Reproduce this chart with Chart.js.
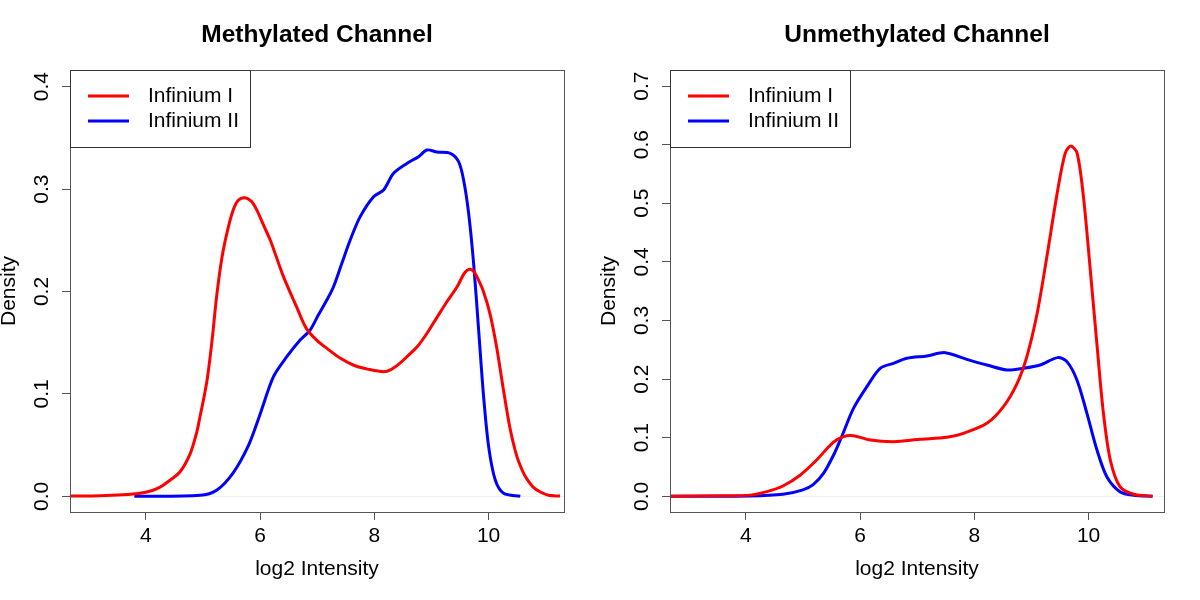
<!DOCTYPE html>
<html>
<head>
<meta charset="utf-8">
<script src="https://cdn.jsdelivr.net/npm/chart.js@4.4.1/dist/chart.umd.min.js"></script>
<style>
  html, body { margin: 0; padding: 0; background: #fff; }
  #wrap { display: flex; width: 1200px; height: 600px; }
  canvas { display: block; }
</style>
</head>
<body>
<div id="wrap">
  <canvas id="meth" width="600" height="600"></canvas>
  <canvas id="unmeth" width="600" height="600"></canvas>
</div>
<script>
// tick labels
const xTicks = [4, 6, 8, 10];
const methYTicks = [0.0, 0.1, 0.2, 0.3, 0.4];
const unmethYTicks = [0.0, 0.1, 0.2, 0.3, 0.4, 0.5, 0.6, 0.7];

const seriesNames = ['Infinium I', 'Infinium II'];
const seriesColors = ['#ff0000', '#0000ff'];

// Methylated channel, Infinium I
const methIx = [2.69, 3.2, 3.6, 3.9, 4.1, 4.25, 4.37, 4.60, 4.78, 4.89, 4.95, 5.02, 5.08, 5.16, 5.24, 5.33, 5.42, 5.52, 5.62, 5.74,
  5.85, 5.94, 6.06, 6.18, 6.41, 6.64, 6.81, 7.0, 7.17, 7.40, 7.64, 7.90, 8.16, 8.30, 8.45, 8.57, 8.75, 8.92, 9.10, 9.27,
  9.45, 9.56, 9.62, 9.68, 9.74, 9.80, 9.91, 10.03, 10.14, 10.26, 10.37, 10.49, 10.60, 10.67, 10.78, 10.90, 11.05, 11.25];
const methIy = [0.0003, 0.0006, 0.0015, 0.003, 0.0055, 0.009, 0.0135, 0.024, 0.042, 0.062, 0.078, 0.097, 0.116, 0.152, 0.195, 0.232, 0.257, 0.278, 0.289, 0.2916,
  0.288, 0.280, 0.265, 0.250, 0.2145, 0.185, 0.164, 0.152, 0.1445, 0.135, 0.128, 0.124, 0.1217, 0.124, 0.130, 0.1363, 0.146, 0.159, 0.175, 0.190,
  0.2047, 0.2165, 0.2205, 0.2217, 0.2195, 0.214, 0.200, 0.177, 0.146, 0.104, 0.068, 0.040, 0.024, 0.017, 0.009, 0.0045, 0.001, 0.0003];

// Methylated channel, Infinium II
const methIIx = [3.80, 4.95, 5.24, 5.53, 5.80, 6.0, 6.235, 6.469, 6.702, 6.877, 7.02, 7.169, 7.286, 7.432, 7.578, 7.753, 7.987, 8.162, 8.337, 8.570,
  8.775, 8.921, 9.096, 9.329, 9.475, 9.563, 9.651, 9.738, 9.826, 9.913, 10.001, 10.117, 10.263, 10.555];
const methIIy = [0.0, 0.001, 0.006, 0.023, 0.050, 0.080, 0.1168, 0.1364, 0.1526, 0.1624, 0.177, 0.1917, 0.2047, 0.2275, 0.2503, 0.2731, 0.2926, 0.2991, 0.3154, 0.3251,
  0.3317, 0.3382, 0.3362, 0.3349, 0.3268, 0.3089, 0.2763, 0.2275, 0.1624, 0.0973, 0.0485, 0.0159, 0.0029, 0.0];

// Unmethylated channel, Infinium I
const unmethIx = [2.69, 3.55, 4.075, 4.37, 4.65, 4.95, 5.24, 5.53, 5.71, 5.88, 6.18, 6.59, 7.05, 7.52, 7.81, 8.22, 8.51, 8.75, 8.92, 9.10,
  9.27, 9.45, 9.59, 9.69, 9.80, 9.91, 10.03, 10.15, 10.26, 10.38, 10.55, 10.79, 11.12];
const unmethIy = [0.0, 0.001, 0.002, 0.008, 0.0176, 0.036, 0.062, 0.092, 0.1018, 0.1035, 0.0961, 0.0932, 0.0972, 0.1006, 0.1075, 0.1245, 0.153, 0.1928, 0.2383, 0.3122,
  0.4089, 0.5169, 0.5852, 0.5977, 0.5852, 0.5113, 0.3861, 0.2553, 0.1416, 0.062, 0.0164, 0.0034, 0.0];

// Unmethylated channel, Infinium II
const unmethIIx = [2.69, 4.075, 4.65, 5.0, 5.18, 5.36, 5.535, 5.68, 5.885, 6.119, 6.352, 6.586, 6.819, 7.169, 7.490, 7.870, 8.220, 8.570, 8.862, 9.154,
  9.458, 9.621, 9.796, 9.971, 10.147, 10.322, 10.555, 10.789, 11.12];
const unmethIIy = [0.0, 0.0005, 0.0034, 0.011, 0.020, 0.039, 0.070, 0.102, 0.150, 0.187, 0.2184, 0.2269, 0.2354, 0.2394, 0.2451, 0.2337, 0.2240, 0.2155, 0.2184, 0.2240,
  0.2366, 0.2298, 0.1985, 0.1416, 0.0790, 0.0330, 0.0074, 0.0017, 0.0];

const FONT = '"Liberation Sans", Arial, Helvetica, sans-serif';
Chart.defaults.font.family = FONT;
Chart.defaults.color = '#000';

function toPoints(xs, ys) {
  return xs.map((x, i) => ({x: x, y: ys[i]}));
}

// R base graphics look: zero line, box, title, y labels along the axis, legend
const rBasePlot = {
  id: 'rBasePlot',
  beforeDatasetsDraw(chart) {
    const {ctx, chartArea: a, scales: {y}} = chart;
    const py = Math.round(y.getPixelForValue(0)) + 0.5;
    ctx.save();
    ctx.strokeStyle = '#eeeeee';
    ctx.lineWidth = 1;
    ctx.beginPath();
    ctx.moveTo(a.left, py);
    ctx.lineTo(a.right, py);
    ctx.stroke();
    ctx.restore();
  },
  afterDraw(chart, args, opts) {
    const {ctx, chartArea: a, scales: {y}} = chart;
    ctx.save();
    ctx.strokeStyle = '#555';
    ctx.lineWidth = 1;
    ctx.strokeRect(a.left + 0.5, a.top + 0.5, a.right - a.left, a.bottom - a.top);

    ctx.fillStyle = '#000';
    ctx.font = 'bold 24.5px ' + FONT;
    ctx.textAlign = 'center';
    ctx.textBaseline = 'middle';
    ctx.fillText(opts.title, (a.left + a.right) / 2, 35);

    ctx.font = '21px ' + FONT;
    y.ticks.forEach(t => {
      ctx.save();
      ctx.translate(42.5, y.getPixelForValue(t.value));
      ctx.rotate(-Math.PI / 2);
      ctx.fillText(t.value.toFixed(1), 0, 0);
      ctx.restore();
    });

    // legend box in the top left corner
    ctx.strokeStyle = '#333';
    ctx.strokeRect(a.left + 0.5, a.top + 0.5, 180, 77);
    ctx.textAlign = 'left';
    chart.data.datasets.forEach((ds, i) => {
      const ly = a.top + 26 + i * 25;
      ctx.strokeStyle = ds.borderColor;
      ctx.lineWidth = 3;
      ctx.beginPath();
      ctx.moveTo(a.left + 18, ly);
      ctx.lineTo(a.left + 59, ly);
      ctx.stroke();
      ctx.fillText(ds.label, a.left + 78, ly + 0.5);
    });
    ctx.restore();
  }
};

function drawPanel(id, title, yTicks, yMin, yMax, series) {
  const datasets = series.map((s, i) => ({
    label: seriesNames[i],
    data: toPoints(s[0], s[1]),
    borderColor: seriesColors[i],
    borderWidth: 3,
    pointRadius: 0,
    tension: 0.3,
    fill: false
  }));
  return new Chart(document.getElementById(id), {
    type: 'line',
    data: {datasets: datasets},
    plugins: [rBasePlot],
    options: {
      responsive: false,
      animation: false,
      layout: {padding: {top: 70, right: 36, left: 0, bottom: 0}},
      plugins: {
        legend: {display: false},
        tooltip: {enabled: false},
        rBasePlot: {title: title}
      },
      scales: {
        x: {
          type: 'linear',
          min: 2.674,
          max: 11.32,
          afterBuildTicks: s => { s.ticks = xTicks.map(v => ({value: v})); },
          afterFit: s => { s.height = 88; },
          border: {display: false},
          grid: {drawOnChartArea: false, tickLength: 8, tickColor: '#555'},
          ticks: {font: {size: 21}, padding: 4, maxRotation: 0, callback: v => String(v)},
          title: {display: true, text: 'log2 Intensity', font: {size: 21}, padding: {top: 0, bottom: 18}}
        },
        y: {
          type: 'linear',
          min: yMin,
          max: yMax,
          afterBuildTicks: s => { s.ticks = yTicks.map(v => ({value: v})); },
          afterFit: s => { s.width = 70; },
          border: {display: false},
          grid: {drawOnChartArea: false, tickLength: 8, tickColor: '#555'},
          ticks: {display: false},
          title: {display: true, text: 'Density', font: {size: 21, lineHeight: 0.85}, padding: 0}
        }
      }
    }
  });
}

drawPanel('meth', 'Methylated Channel', methYTicks, -0.0153, 0.4163,
  [[methIx, methIy], [methIIx, methIIy]]);
drawPanel('unmeth', 'Unmethylated Channel', unmethYTicks, -0.0268, 0.7274,
  [[unmethIx, unmethIy], [unmethIIx, unmethIIy]]);
</script>
</body>
</html>
